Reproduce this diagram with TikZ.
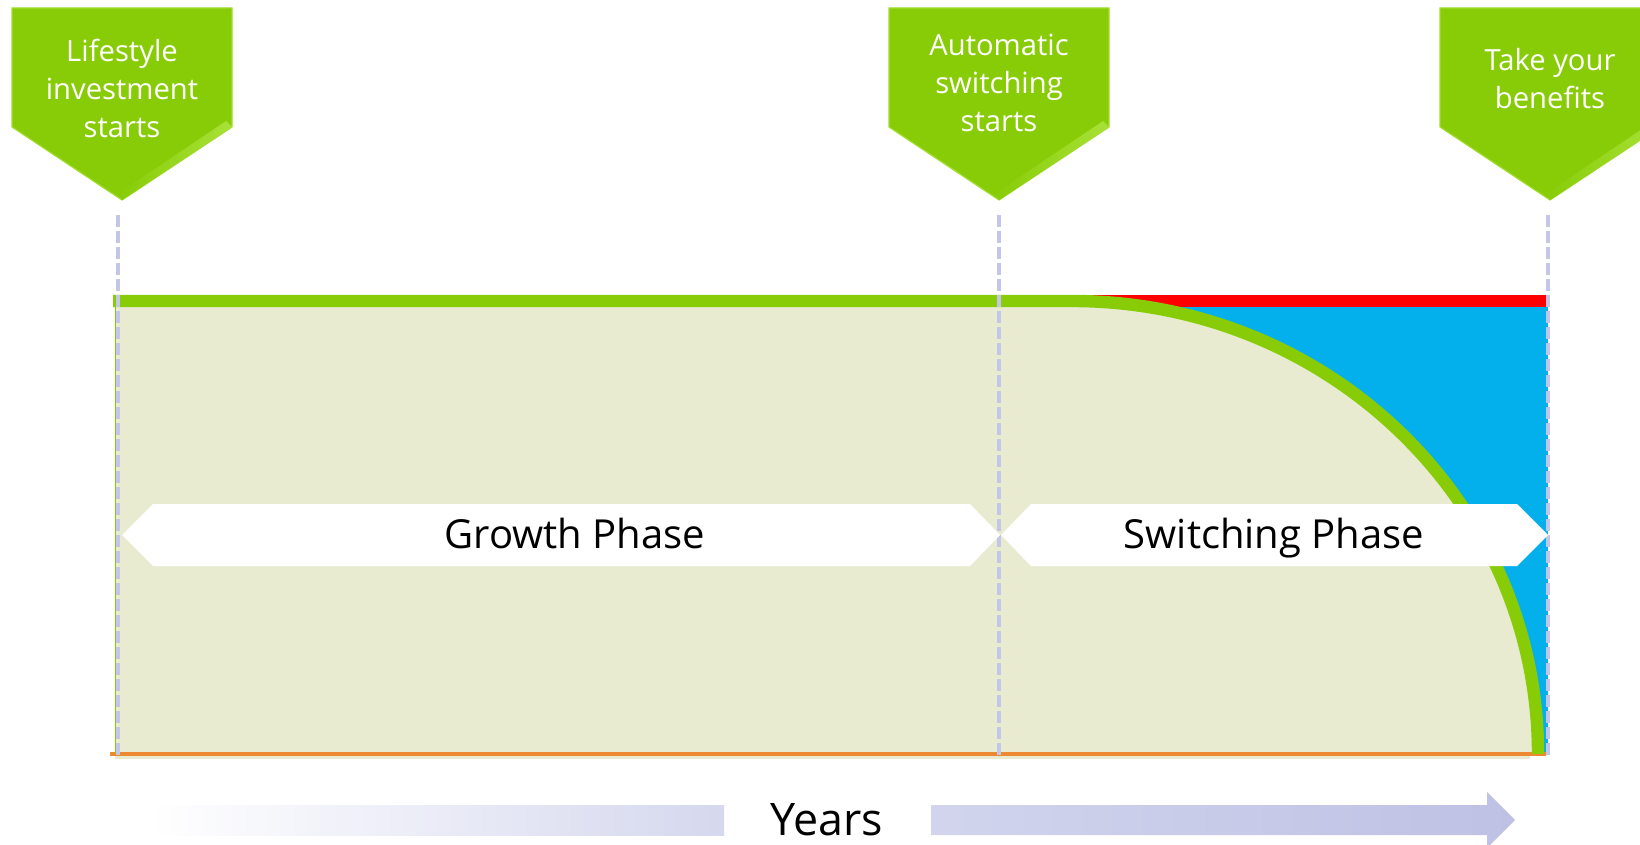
\documentclass[tikz,border=0pt]{standalone}
\usepackage{fontspec}
\setmainfont{Open Sans}
\usepackage{tikz}
\usetikzlibrary{positioning, calc}
\definecolor{lime2}{RGB}{136, 204, 8}
\definecolor{bevel2}{RGB}{178, 232, 70}
\definecolor{beige2}{RGB}{233, 235, 209}
\definecolor{sky2}{RGB}{3, 176, 236}
\definecolor{guide2}{RGB}{195, 198, 232}
\definecolor{orange2}{RGB}{237, 137, 48}
\definecolor{lavleft}{RGB}{213, 216, 238}
\definecolor{lavright}{RGB}{190, 193, 228}

\begin{document}
\begin{tikzpicture}[x=0.5pt, y=-0.5pt,
	calloutbox/.style={fill=lime2, draw=bevel2!60!lime2, line width=0.6pt},
	callouttext/.style={text=white, align=center, font=\fontsize{14.6}{19}\selectfont},
	phasetext/.style={anchor=base, font=\fontsize{20}{24}\selectfont},
	guide/.style={guide2, line width=2pt, dash pattern=on 6pt off 2pt}]
	\useasboundingbox (0,0) rectangle (1640,845);

	% switching phase behind the curve
	\fill[red] (1000,295) rectangle (1548,307);
	\fill[sky2] (1000,307) rectangle (1548,754);
	\fill[beige2] (115,301) -- (1072,301) .. controls (1330,301) and (1538,504) .. (1538,754) -- (115,754) -- cycle;
	\fill[beige2] (115,754) rectangle (1530,759);
	\draw[orange2, line width=2pt] (110,754) -- (1546,754);
	\draw[lime2, line width=0.8pt] (115.5,301) -- (115.5,754);
	\draw[lime2, line width=6.2pt] (113,301) -- (1072,301) .. controls (1330,301) and (1538,504) .. (1538,754);

	\foreach \gx in {118, 999, 1548} {
		\draw[guide] (\gx,215) -- (\gx,756);
	}

	% phases
	\fill[white] (122,535) -- (153,504) -- (970,504) -- (1000,535) -- (970,566) -- (153,566) -- cycle;
	\fill[white] (1001,535) -- (1031,504) -- (1517,504) -- (1548,535) -- (1517,566) -- (1031,566) -- cycle;
	\node[phasetext] (growth) at (575,548) {Growth Phase};
	\node[phasetext] (switching) at (1274,548) {Switching Phase};

	% callouts
	\foreach \cx in {122, 999, 1550} {
		\fill[calloutbox] (\cx-110,8) -- (\cx+110,8) -- (\cx+110,127) -- (\cx,200) -- (\cx-110,127) -- cycle;
		\shade[left color=lime2, right color=bevel2!75!lime2] (\cx+104,121) -- (\cx+110,127) -- (\cx,200) -- (\cx-3,193) -- cycle;
	}
	\node[callouttext] (lifestyle) at (122,88) {Lifestyle\\investment\\starts};
	\node[callouttext] (autoswitch) at (999,83) {Automatic\\switching\\starts};
	\node[callouttext] (benefits) at (1550,79) {Take your\\benefits};

	% years
	\shade[left color=white, right color=lavleft] (150,805) rectangle (724,835);
	\shade[left color=lavleft!85!lavright, right color=lavright] (931,805) -- (1487,805) -- (1487,792) -- (1515,820) -- (1487,848) -- (1487,835) -- (931,835) -- cycle;
	\node[anchor=base, font=\fontsize{22.4}{26}\selectfont] (years) at (827,835) {Years};
\end{tikzpicture}
\end{document}
